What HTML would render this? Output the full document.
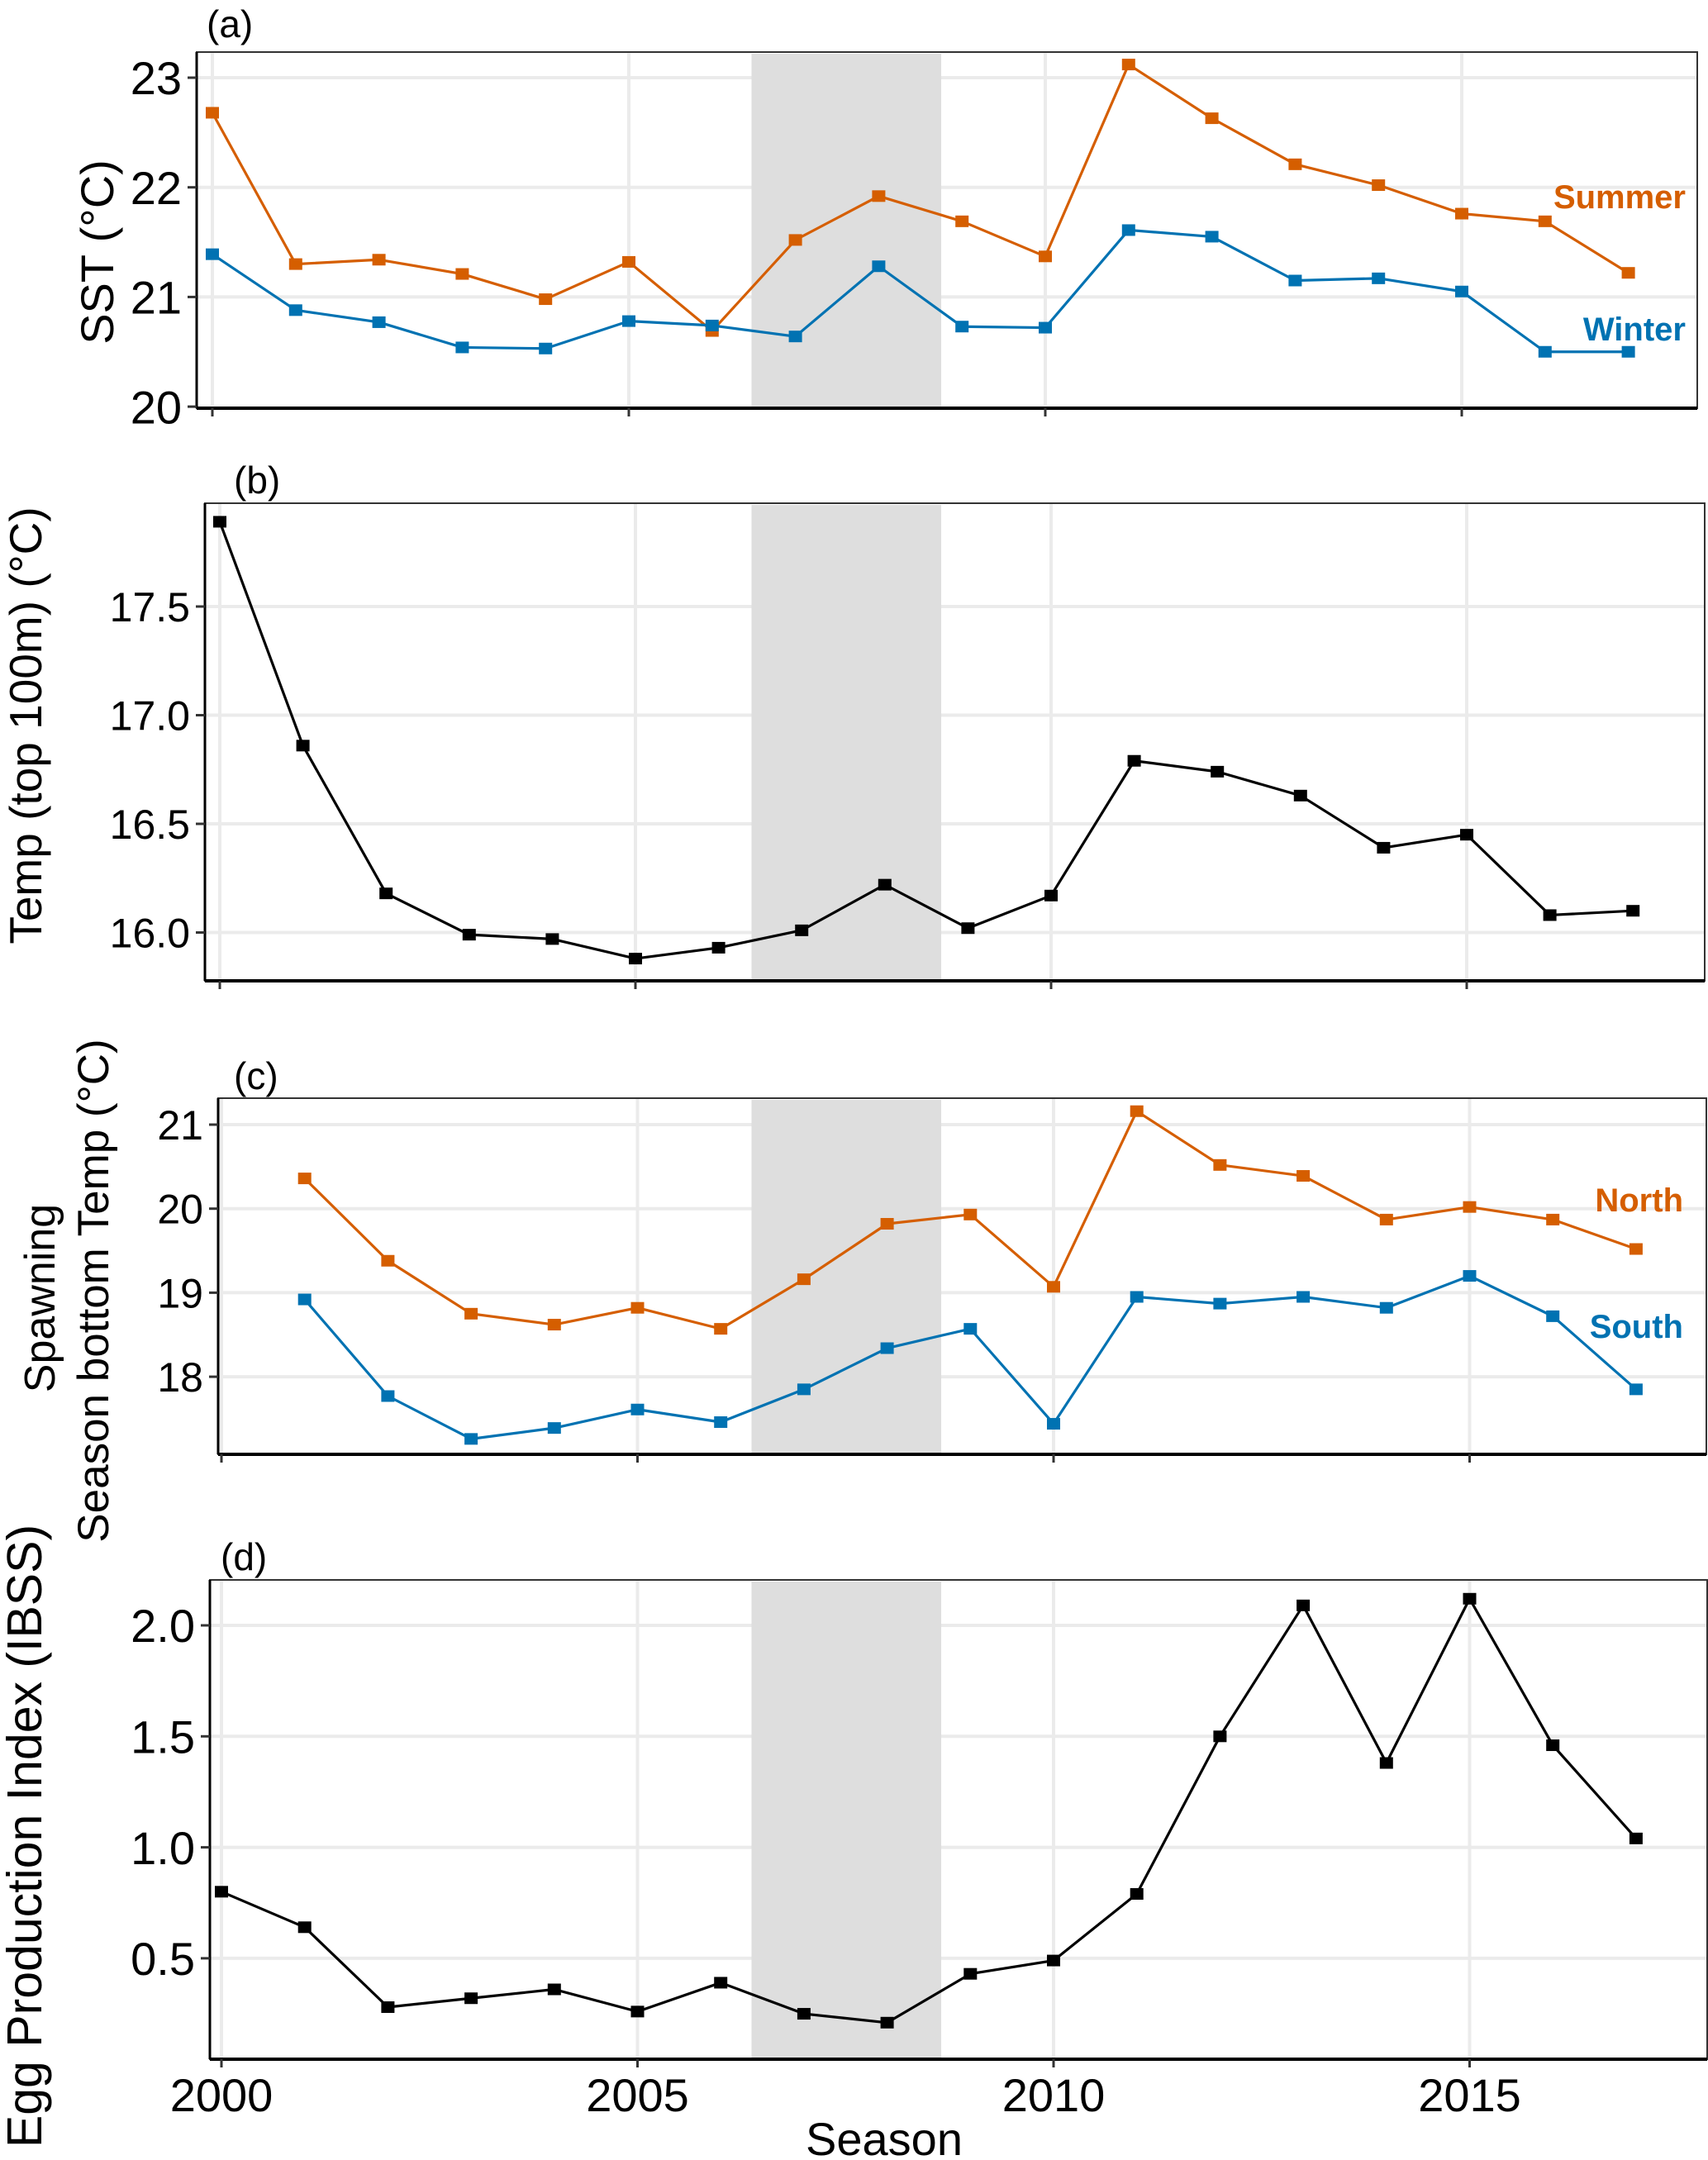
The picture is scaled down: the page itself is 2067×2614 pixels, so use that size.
<!DOCTYPE html>
<html><head><meta charset="utf-8"><style>
html,body{margin:0;padding:0;background:#fff;}
svg{display:block;font-family:"Liberation Sans",sans-serif;}
</style></head><body>
<svg id="chart" width="2067" height="2614" viewBox="0 0 2067 2614" xmlns="http://www.w3.org/2000/svg"></svg>
<script>
const years = [2000,2001,2002,2003,2004,2005,2006,2007,2008,2009,2010,2011,2012,2013,2014,2015,2016,2017];
const summerSST = [22.68,21.30,21.34,21.21,20.98,21.32,20.69,21.52,21.92,21.69,21.37,23.12,22.63,22.21,22.02,21.76,21.69,21.22];
const winterSST = [21.39,20.88,20.77,20.54,20.53,20.78,20.74,20.64,21.28,20.73,20.72,21.61,21.55,21.15,21.17,21.05,20.50,20.50];
const temp100 = [17.89,16.86,16.18,15.99,15.97,15.88,15.93,16.01,16.22,16.02,16.17,16.79,16.74,16.63,16.39,16.45,16.08,16.10];
const yearsC = [2001,2002,2003,2004,2005,2006,2007,2008,2009,2010,2011,2012,2013,2014,2015,2016,2017];
const northBT = [20.36,19.38,18.75,18.62,18.82,18.57,19.16,19.82,19.93,19.07,21.16,20.52,20.39,19.87,20.02,19.87,19.52];
const southBT = [18.92,17.77,17.26,17.39,17.61,17.46,17.85,18.34,18.57,17.44,18.95,18.87,18.95,18.82,19.20,18.72,17.85];
const eggIndex = [0.80,0.64,0.28,0.32,0.36,0.26,0.39,0.25,0.21,0.43,0.49,0.79,1.50,2.09,1.38,2.12,1.46,1.04];
const xTicks = [2000,2005,2010,2015];
const ticksA = [20,21,22,23];
const ticksB = [16.0,16.5,17.0,17.5];
const ticksC = [18,19,20,21];
const ticksD = [0.5,1.0,1.5,2.0];
const shadeRange = [2006.37,2008.65];

const NS="http://www.w3.org/2000/svg";
const svg=document.getElementById('chart');
function mk(tag,attrs,parent){const e=document.createElementNS(NS,tag);for(const k in attrs)e.setAttribute(k,attrs[k]);(parent||svg).appendChild(e);return e;}
// shading is drawn at the same horizontal position in every panel (aligned to bottom panel axis)
const shadeX = yr=>268+(yr-2000)*100.7;

const panels=[
 {id:'a',box:[238,63,2054,494],x0:257,dx:100.8,yRef:23,yPx:94,yScale:132.7,ticks:ticksA,fmt:v=>String(v),tickFont:56,
  series:[{x:years,y:summerSST,c:'#D55E00',n:'summer'},{x:years,y:winterSST,c:'#0072B2',n:'winter'}],label:'(a)',lx:250,ly:45},
 {id:'b',box:[248,609,2063,1187],x0:266,dx:100.6,yRef:17.5,yPx:734,yScale:263,ticks:ticksB,fmt:v=>v.toFixed(1),tickFont:50,
  series:[{x:years,y:temp100,c:'#000',n:'temp-top100m'}],label:'(b)',lx:283,ly:597},
 {id:'c',box:[264,1329,2065,1760],x0:268,dx:100.7,yRef:21,yPx:1361,yScale:101.7,ticks:ticksC,fmt:v=>String(v),tickFont:50,
  series:[{x:yearsC,y:northBT,c:'#D55E00',n:'north'},{x:yearsC,y:southBT,c:'#0072B2',n:'south'}],label:'(c)',lx:283,ly:1318},
 {id:'d',box:[254,1912,2066,2492],x0:268,dx:100.7,yRef:2.0,yPx:1967,yScale:268.6,ticks:ticksD,fmt:v=>v.toFixed(1),tickFont:56,
  series:[{x:years,y:eggIndex,c:'#000',n:'egg-index'}],label:'(d)',lx:267,ly:1900}
];

panels.forEach(p=>{
  const g=mk('g',{});
  
  
  const [L,T,R,B]=p.box;
  const X=yr=>p.x0+(yr-2000)*p.dx;
  const Y=v=>p.yPx+(p.yRef-v)*p.yScale;
  xTicks.forEach(t=>{const l=mk('line',{x1:X(t),x2:X(t),y1:T,y2:B,stroke:'#EBEBEB','stroke-width':4},g);
    });
  p.ticks.forEach(t=>{const l=mk('line',{x1:L,x2:R,y1:Y(t),y2:Y(t),stroke:'#EBEBEB','stroke-width':4},g);
    });
  const sh=mk('rect',{x:shadeX(shadeRange[0]),y:T+2,width:shadeX(shadeRange[1])-shadeX(shadeRange[0]),height:B-T-3,fill:'#DEDEDE'},g);
  
  
  const bd=mk('rect',{x:L,y:T,width:R-L,height:B-T,fill:'none',stroke:'#333','stroke-width':2},g);
  
  
  const ax=mk('line',{x1:L,x2:R,y1:B,y2:B,stroke:'#000','stroke-width':4},g);
  
  
  const ay=mk('line',{x1:L,x2:L,y1:T,y2:B,stroke:'#000','stroke-width':3},g);
  
  
  xTicks.forEach(t=>{const l=mk('line',{x1:X(t),x2:X(t),y1:B,y2:B+10,stroke:'#333','stroke-width':3},g);
    });
  p.ticks.forEach(t=>{const l=mk('line',{x1:L-11,x2:L,y1:Y(t),y2:Y(t),stroke:'#333','stroke-width':3},g);
    
    const tx=mk('text',{x:L-18,y:Y(t)+p.tickFont*0.36,'text-anchor':'end','font-size':p.tickFont,fill:'#000'},g);
    tx.textContent=p.fmt(t);
    });
  p.series.forEach(s=>{
    const pts=s.x.map((yr,i)=>X(yr)+','+Y(s.y[i])).join(' ');
    const pl=mk('polyline',{points:pts,fill:'none',stroke:s.c,'stroke-width':3.2,'stroke-linejoin':'round'},g);
    
    
    s.x.forEach((yr,i)=>{
      const r=mk('rect',{x:X(yr)-8,y:Y(s.y[i])-7,width:16,height:14,fill:s.c},g);
      
      
    });
  });
  const lb=mk('text',{x:p.lx,y:p.ly,'font-size':46,fill:'#000'},g);
  lb.textContent=p.label;
  
  
});

const pd=panels[3];
xTicks.forEach(t=>{
  const tx=mk('text',{x:pd.x0+(t-2000)*pd.dx,y:2555,'text-anchor':'middle','font-size':56,fill:'#000'});
  tx.textContent=String(t);
  
  
});

function T(txt,x,y,size,attrs,name){
  const e=mk('text',Object.assign({x:x,y:y,'font-size':size},attrs));
  e.textContent=txt;
  
  
}
T('Season',1070,2608,56,{'text-anchor':'middle'},'x-axis-title');
T('SST (°C)',0,0,56,{'text-anchor':'middle',transform:'translate(137,305) rotate(-90)'},'y-axis-title-a');
T('Temp (top 100m) (°C)',0,0,55,{'text-anchor':'middle',transform:'translate(50,878) rotate(-90)'},'y-axis-title-b');
T('Spawning',0,0,52,{'text-anchor':'middle',transform:'translate(66,1571) rotate(-90)'},'y-axis-title-c-line1');
T('Season bottom Temp (°C)',0,0,53,{'text-anchor':'middle',transform:'translate(131,1562) rotate(-90)'},'y-axis-title-c-line2');
T('Egg Production Index (IBSS)',0,0,59,{'text-anchor':'middle',transform:'translate(50,2222) rotate(-90)'},'y-axis-title-d');
T('Summer',2040,252,40,{'text-anchor':'end','font-weight':'bold',fill:'#D55E00'},'summer-label');
T('Winter',2040,412,40,{'text-anchor':'end','font-weight':'bold',fill:'#0072B2'},'winter-label');
T('North',2037,1466,40,{'text-anchor':'end','font-weight':'bold',fill:'#D55E00'},'north-label');
T('South',2037,1619,40,{'text-anchor':'end','font-weight':'bold',fill:'#0072B2'},'south-label');
</script>
</body></html>
